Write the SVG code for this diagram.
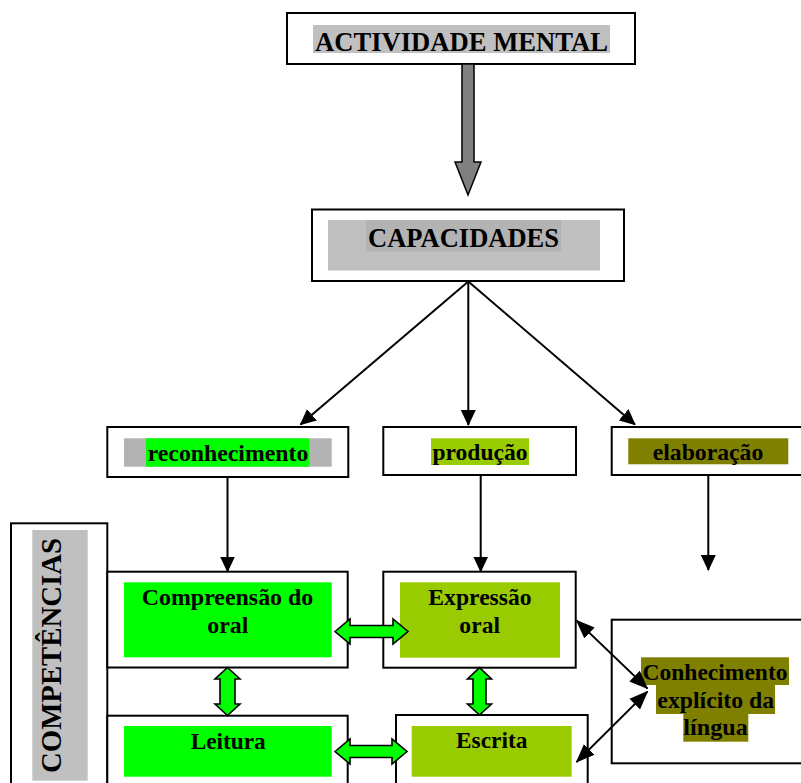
<svg xmlns="http://www.w3.org/2000/svg" width="801" height="783" viewBox="0 0 801 783">
  <style>
    .box { fill: #ffffff; stroke: #000000; stroke-width: 2; }
    .lbl { font-family: "Liberation Serif", "Times New Roman", serif; font-weight: bold; fill: #000000; text-anchor: middle; }
    .big { font-size: 27px; }
    .mid { font-size: 24px; }
    .wire { stroke: #000000; stroke-width: 2; fill: none; }
    .thin { stroke: #000000; stroke-width: 1.8; fill: none; }
    .block { fill: #00ff00; stroke: #000000; stroke-width: 1.6; stroke-linejoin: miter; }
  </style>
  <defs>
    <marker id="head" markerUnits="userSpaceOnUse" markerWidth="16" markerHeight="16" viewBox="0 0 16 16" refX="15" refY="8" orient="auto-start-reverse">
      <path d="M0,0.5 L16,8 L0,15.5 Z" fill="#000000"/>
    </marker>
    <marker id="headS" markerUnits="userSpaceOnUse" markerWidth="19" markerHeight="16" viewBox="0 0 19 16" refX="18" refY="8" orient="auto-start-reverse">
      <path d="M0,0.5 L19,8 L0,15.5 Z" fill="#000000"/>
    </marker>
  </defs>

  <!-- top node -->
  <g id="actividade">
    <rect class="box" x="287" y="13" width="348" height="51"/>
    <rect x="313" y="25" width="297" height="28" fill="#c0c0c0"/>
    <text class="lbl big" x="461.5" y="51" textLength="293" lengthAdjust="spacingAndGlyphs">ACTIVIDADE MENTAL</text>
  </g>

  <g id="capacidades">
    <rect class="box" x="312" y="209.5" width="312" height="71.5"/>
    <rect x="328" y="220" width="272" height="50.5" fill="#c0c0c0"/>
    <rect x="366" y="220" width="195" height="31.5" fill="#b3b3b3"/>
    <text class="lbl big" x="463.5" y="246.7" textLength="191" lengthAdjust="spacingAndGlyphs">CAPACIDADES</text>
  </g>

  <!-- capacities row -->
  <g id="reconhecimento">
    <rect class="box" x="107.3" y="427" width="241" height="50"/>
    <rect x="124" y="438.3" width="207.7" height="28.4" fill="#b3b3b3"/>
    <rect x="146" y="438.3" width="163.3" height="28.4" fill="#00ff00"/>
    <text class="lbl mid" x="228" y="460.5" textLength="160.6" lengthAdjust="spacingAndGlyphs">reconhecimento</text>
  </g>

  <g id="producao">
    <rect class="box" x="383.3" y="427" width="192.7" height="48"/>
    <rect x="431" y="438.3" width="98" height="26.7" fill="#99cc00"/>
    <text class="lbl mid" x="480" y="460" textLength="95" lengthAdjust="spacingAndGlyphs">produção</text>
  </g>

  <g id="elaboracao">
    <rect class="box" x="611.7" y="427" width="200" height="48"/>
    <rect x="628.3" y="438.3" width="160" height="26" fill="#808000"/>
    <text class="lbl mid" x="708" y="460" textLength="110.6" lengthAdjust="spacingAndGlyphs">elaboração</text>
  </g>

  <!-- competences column -->
  <g id="competencias">
    <rect class="box" x="11" y="523.3" width="96.3" height="280"/>
    <rect x="32.3" y="530" width="55.4" height="250.7" fill="#c0c0c0"/>
    <text class="lbl" font-size="30" transform="translate(61,655.5) rotate(-90)" textLength="235" lengthAdjust="spacingAndGlyphs">COMPETÊNCIAS</text>
  </g>

  <g id="compreensao">
    <rect class="box" x="107.3" y="571.7" width="240.4" height="95.8"/>
    <rect x="124" y="582.3" width="207.7" height="75" fill="#00ff00"/>
    <text class="lbl mid" x="227.5" y="605" textLength="171.6" lengthAdjust="spacingAndGlyphs">Compreensão do</text>
    <text class="lbl mid" x="227.8" y="632.7" textLength="41" lengthAdjust="spacingAndGlyphs">oral</text>
  </g>

  <g id="expressao">
    <rect class="box" x="383.3" y="571.7" width="192.4" height="96"/>
    <rect x="400" y="582.3" width="160" height="75.4" fill="#99cc00"/>
    <text class="lbl mid" x="480" y="605" textLength="103.3" lengthAdjust="spacingAndGlyphs">Expressão</text>
    <text class="lbl mid" x="479.7" y="632.7" textLength="40.7" lengthAdjust="spacingAndGlyphs">oral</text>
  </g>

  <g id="leitura">
    <rect class="box" x="107.3" y="715.7" width="240.4" height="90"/>
    <rect x="124" y="726" width="207.7" height="50.7" fill="#00ff00"/>
    <text class="lbl mid" x="228.2" y="749" textLength="75" lengthAdjust="spacingAndGlyphs">Leitura</text>
  </g>

  <g id="escrita">
    <rect class="box" x="396" y="715" width="191.7" height="90"/>
    <rect x="411.7" y="726" width="160" height="50.7" fill="#99cc00"/>
    <text class="lbl mid" x="491.7" y="748.3" textLength="71.3" lengthAdjust="spacingAndGlyphs">Escrita</text>
  </g>

  <g id="conhecimento">
    <rect class="box" x="611.7" y="619.7" width="200" height="143.6"/>
    <rect x="641" y="657.3" width="148" height="27.7" fill="#808000"/>
    <rect x="656" y="685" width="119" height="29" fill="#808000"/>
    <rect x="683.3" y="714" width="65" height="27.7" fill="#808000"/>
    <text class="lbl mid" x="715" y="680" textLength="145" lengthAdjust="spacingAndGlyphs">Conhecimento</text>
    <text class="lbl mid" x="715.7" y="707.7" textLength="116.7" lengthAdjust="spacingAndGlyphs">explícito da</text>
    <text class="lbl mid" x="715.5" y="735" textLength="64.4" lengthAdjust="spacingAndGlyphs">língua</text>
  </g>

  <!-- connectors -->
  <g id="connectors">
    <!-- wide grey arrow -->
    <polygon points="462,64 474,64 474,162 481,162 468,195 455,162 462,162" fill="#808080" stroke="#000000" stroke-width="1.5"/>

    <!-- fan-out from capacidades -->
    <line class="wire" x1="468.3" y1="281.5" x2="300.5" y2="424.5" marker-end="url(#head)"/>
    <line class="wire" x1="468.3" y1="281.5" x2="468.3" y2="425" marker-end="url(#head)"/>
    <line class="wire" x1="468.3" y1="281.5" x2="635" y2="424.5" marker-end="url(#head)"/>

    <!-- capacities to competences -->
    <line class="wire" x1="227.5" y1="477" x2="227.5" y2="571.5" marker-end="url(#head)"/>
    <line class="wire" x1="480.7" y1="475" x2="480.7" y2="571.5" marker-end="url(#head)"/>
    <line class="wire" x1="708.3" y1="475" x2="708.3" y2="570" marker-end="url(#head)"/>

    <!-- green two-way block arrows -->
    <polygon class="block" points="335,631.5 350,619 350,625.5 393,625.5 393,619 408,631.5 393,644 393,637.5 350,637.5 350,644"/>
    <polygon class="block" points="335,751.5 350,739 350,745.5 392,745.5 392,739 407,751.5 392,764 392,757.5 350,757.5 350,764"/>
    <polygon class="block" points="227.5,667.5 240,679 235,679 235,704 240,704 227.5,715.5 215,704 220,704 220,679 215,679"/>
    <polygon class="block" points="479.5,667.7 491.5,679 486,679 486,704 491.5,704 479.5,715 467.5,704 473,704 473,679 467.5,679"/>

    <!-- thin two-way arrows to conhecimento -->
    <line class="thin" x1="576.5" y1="620.5" x2="647.5" y2="688.5" marker-start="url(#headS)" marker-end="url(#headS)"/>
    <line class="thin" x1="647.5" y1="691.5" x2="576.5" y2="762" marker-start="url(#headS)" marker-end="url(#headS)"/>
  </g>
</svg>
